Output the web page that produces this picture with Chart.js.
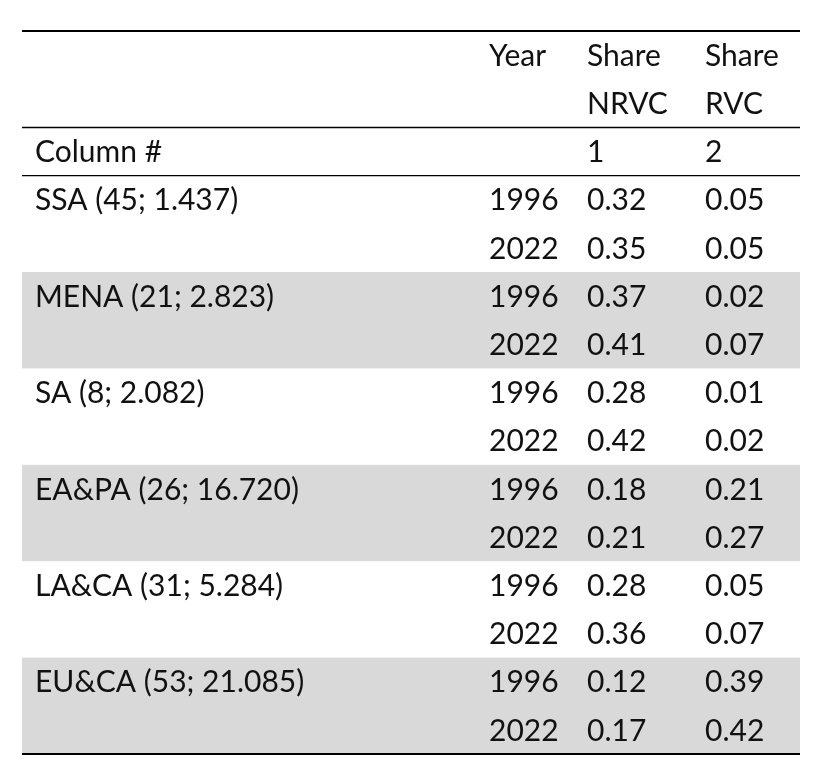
<!DOCTYPE html>
<html>
<head>
<meta charset="utf-8">
<script src="https://cdn.jsdelivr.net/npm/chart.js@4.4.1/dist/chart.umd.min.js"></script>
<style>
  html, body { margin: 0; padding: 0; background: #ffffff; }
  #table { display: block; }
</style>
</head>
<body>
<canvas id="table" width="813" height="767"></canvas>
<script>
// table content
const regions = ["SSA (45; 1.437)", "MENA (21; 2.823)", "SA (8; 2.082)", "EA&PA (26; 16.720)", "LA&CA (31; 5.284)", "EU&CA (53; 21.085)"];
const years = ["1996", "2022"];
const shareNRVC = [0.32, 0.35, 0.37, 0.41, 0.28, 0.42, 0.18, 0.21, 0.28, 0.36, 0.12, 0.17];
const shareRVC = [0.05, 0.05, 0.02, 0.07, 0.01, 0.02, 0.21, 0.27, 0.05, 0.07, 0.39, 0.42];
const headerTop = ["", "Year", "Share", "Share"];
const headerBottom = ["", "", "NRVC", "RVC"];
const columnNumbers = ["Column #", "", "1", "2"];

// column anchors on the x scale (left edges)
const colX = [13, 467, 565, 683];
const font = "30px Lato";
const textColor = "#111111";
const bandColor = "#d9d9d9";

const tablePlugin = {
  id: "tablePlugin",
  afterDraw: function (chart) {
    const ctx = chart.ctx;
    const x = chart.scales.x;
    const y = chart.scales.y;
    const left = chart.chartArea.left;
    const right = chart.chartArea.right;

    // shaded bands for every other region
    ctx.save();
    ctx.fillStyle = bandColor;
    for (let r = 0; r < regions.length; r++) {
      if (r % 2 == 1) {
        let top = y.getPixelForValue(3 + r * 2 - 0.5);
        let bottom = y.getPixelForValue(3 + r * 2 + 1.5);
        ctx.fillRect(left, top, right - left, bottom - top);
      }
    }

    // rules
    function rule(v, w) {
      let py = y.getPixelForValue(v);
      ctx.beginPath();
      ctx.lineWidth = w;
      ctx.strokeStyle = "#000000";
      ctx.moveTo(left, py);
      ctx.lineTo(right, py);
      ctx.stroke();
    }
    rule(-0.5, 2.2);
    rule(1.5, 1.5);
    rule(2.5, 1.2);
    rule(14.5, 2.2);

    // text
    ctx.font = font;
    ctx.fillStyle = textColor;
    ctx.textBaseline = "middle";
    ctx.textAlign = "left";
    function cell(txt, col, row) {
      if (txt === "") return;
      ctx.fillText(txt, x.getPixelForValue(colX[col]), y.getPixelForValue(row) + 1);
    }
    for (let c = 0; c < 4; c++) {
      cell(headerTop[c], c, 0);
      cell(headerBottom[c], c, 1);
      cell(columnNumbers[c], c, 2);
    }
    let row = 3;
    for (let r = 0; r < regions.length; r++) {
      for (let k = 0; k < years.length; k++) {
        let i = r * 2 + k;
        if (k == 0) cell(regions[r], 0, row);
        cell(years[k], 1, row);
        cell(shareNRVC[i].toFixed(2), 2, row);
        cell(shareRVC[i].toFixed(2), 3, row);
        row++;
      }
    }
    ctx.restore();
  },
};

new Chart("table", {
  type: "scatter",
  data: { datasets: [] },
  options: {
    responsive: false,
    animation: false,
    layout: { padding: { left: 22, right: 13, top: 31, bottom: 13 } },
    plugins: { legend: { display: false }, tooltip: { enabled: false } },
    scales: {
      x: { type: "linear", min: 0, max: 778, display: false },
      y: { type: "linear", min: -0.5, max: 14.5, reverse: true, display: false },
    },
  },
  plugins: [tablePlugin],
});
</script>
</body>
</html>
